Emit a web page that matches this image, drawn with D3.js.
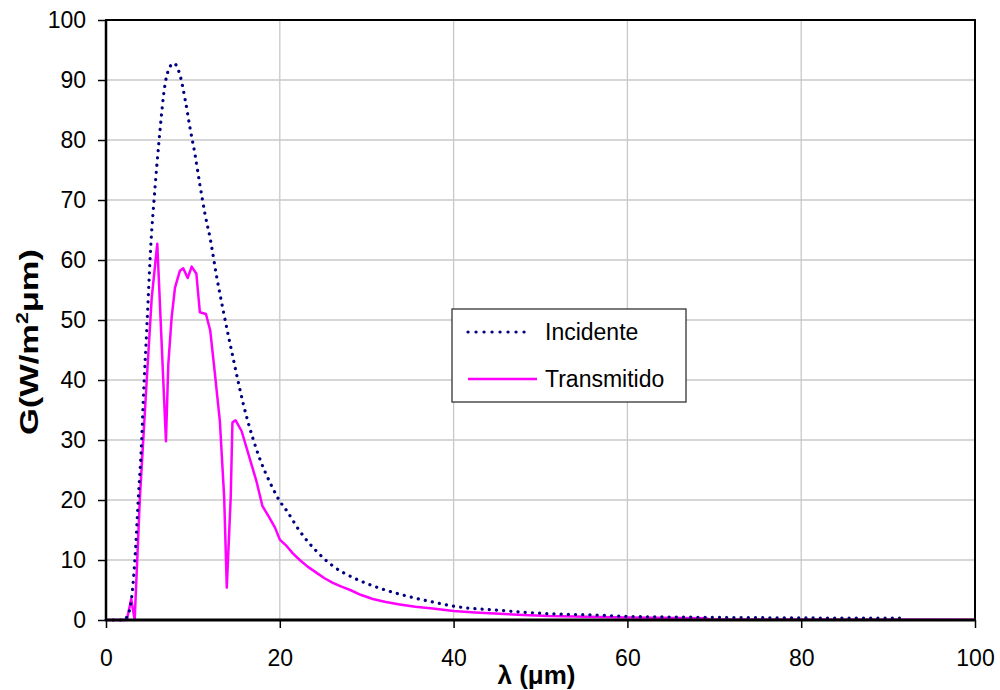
<!DOCTYPE html>
<html>
<head>
<meta charset="utf-8">
<script src="https://cdn.jsdelivr.net/npm/d3@7/dist/d3.min.js"></script>
<style>
  html, body { margin: 0; padding: 0; background: #fff; }
  svg text { font-family: "Liberation Sans", Arial, sans-serif; fill: #000; }
</style>
</head>
<body>
<svg id="chart" width="1000" height="690"></svg>
<script>
// ---- data ----
const xTicks = [0, 20, 40, 60, 80, 100];
const yTicks = [0, 10, 20, 30, 40, 50, 60, 70, 80, 90, 100];
const seriesNames = ["Incidente", "Transmitido"];

const incidenteLambda = [0, 2, 2.4, 2.95, 3.34, 3.72, 4.1, 4.3, 4.68, 5.2, 5.52, 5.83, 6.1, 6.8, 7.4, 7.8, 8.5, 9.1, 9.67, 10.24, 10.8, 11.4, 12, 12.7, 13.5, 14.65, 15.8, 17.3, 19.25, 20, 20.8, 22.3, 24.2, 26.1, 28.1, 30.7, 33.8, 37.6, 40, 45.3, 51, 56.8, 60, 69, 80, 91.5];
const incidenteG      = [0, 0, 0.5, 3.7, 10.4, 20.4, 29.8, 37, 48.2, 63.5, 69.8, 75.4, 79.8, 89.3, 92.3, 92.8, 90.9, 86.8, 82, 77.6, 72.6, 67.6, 63.5, 57.5, 51.5, 43.5, 36, 28.5, 21.8, 19.8, 18.2, 14.8, 11.5, 9, 7.3, 5.7, 4.3, 3, 2.3, 1.6, 1.05, 0.8, 0.6, 0.45, 0.35, 0.3];

const transmitidoLambda = [0, 2.4, 2.9, 3.3, 3.9, 4.68, 5.26, 5.9, 6.9, 7.17, 7.55, 7.94, 8.5, 8.9, 9.4, 9.86, 10.4, 10.8, 11.5, 12.0, 12.5, 13.1, 13.6, 13.9, 14.35, 14.55, 14.9, 15.6, 16.4, 17.3, 18.0, 18.7, 19.45, 20.0, 20.8, 21.5, 22.3, 23.2, 24.2, 25.1, 26.1, 27.1, 28.1, 29.3, 30.7, 32.2, 33.8, 35.6, 37.6, 40, 42.5, 45.3, 48, 51, 56.8, 60, 69, 69.5, 100];
const transmitidoG      = [0, 0, 3.5, 0, 20.4, 39.8, 53.7, 62.7, 29.8, 42.6, 50.4, 55.4, 58.2, 58.6, 57, 58.9, 57.7, 51.3, 51, 48.2, 41.5, 33.2, 20.4, 5.4, 20.4, 32.9, 33.3, 31.5, 27.6, 23.2, 19, 17.3, 15.4, 13.4, 12.3, 11.1, 10.0, 8.9, 7.9, 7.0, 6.2, 5.55, 5.0, 4.2, 3.5, 3.0, 2.6, 2.2, 1.9, 1.5, 1.25, 1.05, 0.85, 0.65, 0.5, 0.4, 0.3, 0.08, 0.05];

// ---- layout ----
const margin = { left: 106, right: 25, top: 20, bottom: 70 };
const W = 1000, H = 690;
const svg = d3.select("#chart");

const x = d3.scaleLinear().domain([0, 100]).range([margin.left, W - margin.right]);
const y = d3.scaleLinear().domain([0, 100]).range([H - margin.bottom, margin.top]);

// gridlines
svg.append("g").selectAll("line.v").data(xTicks.slice(1, -1)).join("line")
  .attr("x1", d => x(d)).attr("x2", d => x(d))
  .attr("y1", y(0)).attr("y2", y(100))
  .attr("stroke", "#c8c8c8").attr("stroke-width", 1.3);
svg.append("g").selectAll("line.h").data(yTicks.slice(1, -1)).join("line")
  .attr("x1", x(0)).attr("x2", x(100))
  .attr("y1", d => y(d)).attr("y2", d => y(d))
  .attr("stroke", "#c8c8c8").attr("stroke-width", 1.3);

// axes
const xAxis = d3.axisBottom(x).tickValues(xTicks).tickSize(8).tickPadding(22);
const yAxis = d3.axisLeft(y).tickValues(yTicks).tickSize(8).tickPadding(12);

const gx = svg.append("g").attr("transform", `translate(0,${y(0)})`).call(xAxis);
const gy = svg.append("g").attr("transform", `translate(${x(0)},0)`).call(yAxis);
[gx, gy].forEach(g => {
  g.select(".domain").remove();
  g.selectAll(".tick line").attr("stroke", "#000").attr("stroke-width", 1.5);
  g.selectAll(".tick text").style("font-family", "'Liberation Sans', Arial, sans-serif")
    .style("font-size", "23px").attr("fill", "#222");
});

// lines
const lineInc = d3.line().x(d => x(d[0])).y(d => y(d[1])).curve(d3.curveMonotoneX);
const lineTr = d3.line().x(d => x(d[0])).y(d => y(d[1]));

const incData = d3.zip(incidenteLambda, incidenteG);
const trData = d3.zip(transmitidoLambda, transmitidoG);

svg.append("path").datum(trData).attr("d", lineTr)
  .attr("fill", "none").attr("stroke", "#ff00ff").attr("stroke-width", 2.5)
  .attr("stroke-linejoin", "round");
svg.append("path").datum(incData).attr("d", lineInc)
  .attr("fill", "none").attr("stroke", "#000080").attr("stroke-width", 3.2)
  .attr("stroke-linecap", "round").attr("stroke-dasharray", "0.1 7.1");

// frame
svg.append("rect").attr("x", x(0)).attr("y", y(100))
  .attr("width", x(100) - x(0)).attr("height", y(0) - y(100))
  .attr("fill", "none").attr("stroke", "#000").attr("stroke-width", 2);
svg.append("line").attr("x1", x(0)).attr("x2", x(100)).attr("y1", y(0)).attr("y2", y(0))
  .attr("stroke", "#000").attr("stroke-width", 3);
svg.append("line").attr("x1", x(0)).attr("x2", x(0)).attr("y1", y(0)).attr("y2", y(100))
  .attr("stroke", "#000").attr("stroke-width", 2.5);

// axis titles
svg.append("text").attr("x", (x(0) + x(100)) / 2 - 4).attr("y", 684)
  .attr("text-anchor", "middle").style("font-weight", "bold").style("font-size", "26px")
  .text("λ (μm)");

const yt = svg.append("text").attr("transform", `translate(38,${342}) rotate(-90)`)
  .attr("text-anchor", "middle").style("font-weight", "bold").style("font-size", "26px")
  .attr("textLength", 186).attr("lengthAdjust", "spacingAndGlyphs");
yt.append("tspan").text("G(W/m");
yt.append("tspan").attr("dy", -10).style("font-size", "16px").text("2");
yt.append("tspan").attr("dy", 10).text("μm)");

// legend
const lg = svg.append("g");
lg.append("rect").attr("x", 452).attr("y", 309).attr("width", 234).attr("height", 93)
  .attr("fill", "#fff").attr("stroke", "#333").attr("stroke-width", 1.3);
const legendStyles = [
  { color: "#000080", width: 3.2, dash: "0.1 7.9", cap: "round", x2: 532 },
  { color: "#ff00ff", width: 2.5, dash: null, cap: "butt", x2: 537 }
];
seriesNames.forEach((name, i) => {
  const yy = 332 + i * 47;
  const s = legendStyles[i];
  lg.append("line").attr("x1", 468).attr("x2", s.x2).attr("y1", yy).attr("y2", yy)
    .attr("stroke", s.color).attr("stroke-width", s.width)
    .attr("stroke-linecap", s.cap).attr("stroke-dasharray", s.dash);
  lg.append("text").attr("x", 545).attr("y", yy + 8).style("font-size", "23px").text(name);
});
</script>
</body>
</html>
